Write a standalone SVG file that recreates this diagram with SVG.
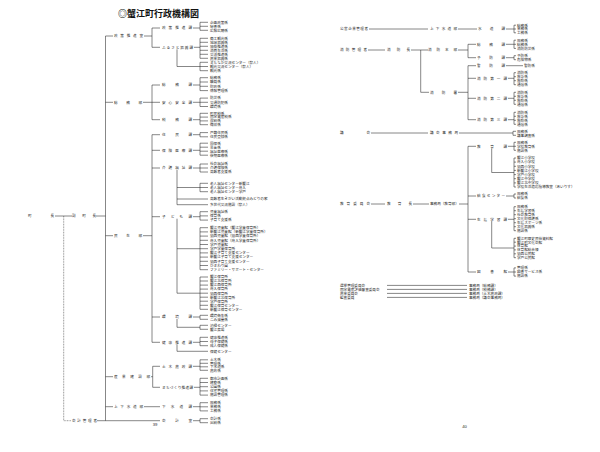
<svg xmlns="http://www.w3.org/2000/svg" width="600" height="452" viewBox="0 0 600 452">
<style>
text{font-family:"Noto Sans CJK JP","Noto Sans",sans-serif;font-size:3.6px;fill:#2a2a2a}
.h{font-size:9px;font-weight:bold;fill:#111}
.pg{font-size:4.2px;font-family:"Liberation Sans",sans-serif;text-anchor:middle}
.c{fill:none;stroke:#222;stroke-width:0.55}
.d{fill:none;stroke:#333;stroke-width:0.55;stroke-dasharray:0.9 0.7}
</style>
<rect width="600" height="452" fill="#fff"/>
<g id="connectors">
<path class="c" d="M105.5 36V420.7 M55 216H72 M96 216H105.5 M105.5 36H113 M105.5 102.3H113 M105.5 235.7H113 M105.5 376.7H113 M105.5 406.7H113 M97 420.7H160"/>
<path class="d" d="M63.7 216V420.7H71"/>
<path class="c" d="M144 36H152 M152 28V47.3 M152 28H160 M152 47.3H160
M193 28H200 M200 22.3V30.3 M200 22.3H208 M200 26.3H208 M200 30.3H208
M194 47.3H200 M200 38.3V58.3 M200 38.3H208 M200 42.3H208 M200 46.3H208 M200 50.3H208 M200 54.3H208 M200 58.3H208 M177 49.3V66.5H200 M200 62.3V70.7 M200 62.3H208 M200 66.5H208 M200 70.7H208
M143 102.3H152 M152 85V119.7 M152 85H160 M152 102.3H160 M152 119.7H160
M193 85H200 M200 77.7V90.6 M200 77.7H208 M200 82H208 M200 86.3H208 M200 90.6H208
M193 102.3H200 M200 98.1V106.5 M200 98.1H208 M200 102.3H208 M200 106.5H208
M193 119.7H200 M200 113.3V124.7 M200 113.3H208 M200 117.1H208 M200 120.9H208 M200 124.7H208
M143 235.7H152 M152 134.7V342.3 M152 134.7H160 M152 150.3H160 M152 168H160 M152 216.7H160 M152 317H160 M152 342.3H160
M193 134.7H200 M200 132.6V136.8 M200 132.6H208 M200 136.8H208
M193 150.3H200 M200 143.2V155.2 M200 143.2H208 M200 147.2H208 M200 151.2H208 M200 155.2H208
M193 168H200 M200 164V172 M200 164H208 M200 168H208 M200 172H208 M177 170V204.7 M177 187.5H200 M200 183.3V191.7 M200 183.3H208 M200 187.5H208 M200 191.7H208 M177 199H208 M177 204.7H208
M193 216.7H200 M200 211.7V220.1 M200 211.7H208 M200 215.9H208 M200 220.1H208 M177 218.7V293.2 M177 248.7H200 M200 227.7V269.7 M200 227.7H208 M200 231.9H208 M200 236.1H208 M200 240.3H208 M200 244.5H208 M200 248.7H208 M200 252.9H208 M200 257.1H208 M200 261.3H208 M200 265.5H208 M200 269.7H208
M177 293.2H200 M200 277V309.3 M200 277H208 M200 281H208 M200 285.1H208 M200 289.1H208 M200 293.2H208 M200 297.2H208 M200 301.2H208 M200 305.3H208 M200 309.3H208
M193 317H200 M200 315.3V319.3 M200 315.3H208 M200 319.3H208 M177 319V327.3H200 M200 325.3V329.3 M200 325.3H208 M200 329.3H208
M193 342.3H200 M200 337.3V345.7 M200 337.3H208 M200 341.5H208 M200 345.7H208 M177 344.3V351.3H208
M151 376.7H152.7 M152.7 366.3V387.3 M152.7 366.3H160 M152.7 387.3H160
M193 366.3H200 M200 359.8V370.3 M200 359.8H208 M200 363.3H208 M200 366.8H208 M200 370.3H208
M194 387.3H200 M200 378.3V395.1 M200 378.3H208 M200 382.5H208 M200 386.7H208 M200 390.9H208 M200 395.1H208
M144 406.7H160 M193 406.7H200 M200 402.7V410.9 M200 402.7H208 M200 406.8H208 M200 410.9H208
M193 420.7H200 M200 418.7V422.7 M200 418.7H208 M200 422.7H208"/>
<path class="c" d="M369 29H428 M458 29H477 M506 29H514 M514 25.2V32.8 M514 25.2H516 M514 29H516 M514 32.8H516
M368 50H385 M411 50H428 M420.7 50V92.3H429 M458 50H468 M468 44.3V57.7 M468 44.3H476 M468 57.7H476
M506 44.3H514 M514 40.2V48.4 M514 40.2H516 M514 44.3H516 M514 48.4H516
M506 57.7H514 M514 55.7V59.7 M514 55.7H516 M514 59.7H516
M458 92.3H468 M468 65.7V119.7 M468 65.7H476 M468 78.3H476 M468 98.3H476 M468 119.7H476
M506 65.7H523
M508 78.3H514 M514 72.7V84.7 M514 72.7H516 M514 76.7H516 M514 80.7H516 M514 84.7H516
M508 98.3H514 M514 92.3V104.3 M514 92.3H516 M514 96.3H516 M514 100.3H516 M514 104.3H516
M508 119.7H514 M514 112.3V124.3 M514 112.3H516 M514 116.3H516 M514 120.3H516 M514 124.3H516
M371 133H428 M459 133H513 M513 131.3V135.3 M513 131.3H516 M513 135.3H516
M371 204H385 M413 204H429 M459 204H468 M468 146.3V272 M468 146.3H476 M468 196H476 M468 219.3H476 M468 272H476
M508 146.3H514 M514 142.3V150.3 M514 142.3H516 M514 146.3H516 M514 150.3H516 M491.7 148.3V172.5H514 M514 158V187 M514 158H516 M514 162.1H516 M514 166.3H516 M514 170.4H516 M514 174.6H516 M514 178.7H516 M514 182.9H516 M514 187H516
M506 196H514 M514 194V198 M514 194H516 M514 198H516
M508 219.3H514 M514 206.7V230.7 M514 206.7H516 M514 210.7H516 M514 214.7H516 M514 218.7H516 M514 222.7H516 M514 226.7H516 M514 230.7H516 M491.7 221.3V248H514 M514 238.3V257.7 M514 238.3H516 M514 242.2H516 M514 246.1H516 M514 249.9H516 M514 253.8H516 M514 257.7H516
M508 272H514 M514 267.9V276.1 M514 267.9H516 M514 272H516 M514 276.1H516
M387 285.4H467 M387 289.4H467 M387 293.4H467 M387 297.4H467"/>
</g>
<g id="title"><text class="h" x="118" y="17">◎蟹江町行政機構図</text></g>
<g id="chouchou"><text x="28" y="217.3" textLength="26" lengthAdjust="spacing">町長</text></g>
<g id="fukuchouchou"><text x="72" y="217.3" textLength="24" lengthAdjust="spacing">副町長</text></g>
<g id="kaikei-kanrisha"><text x="72" y="422" textLength="25" lengthAdjust="spacing">会計管理者</text></g>
<g id="seisaku-suishinshitsu"><text x="114" y="37.3" textLength="29" lengthAdjust="spacing">政策推進室</text></g>
<g id="seisaku-suishinka"><text x="162" y="29.3" textLength="30" lengthAdjust="spacing">政策推進課</text>
<text x="210" y="23.6">企画政策係</text><text x="210" y="27.6">秘書係</text><text x="210" y="31.6">広報広聴係</text></g>
<g id="furusato"><text x="162" y="48.6" textLength="31" lengthAdjust="spacing">ふるさと振興課</text>
<text x="210" y="39.6">商工観光係</text><text x="210" y="43.6">地域振興係</text><text x="210" y="47.6">協働推進係</text><text x="210" y="51.6">消費生活係</text><text x="210" y="55.6">交流推進係</text><text x="210" y="59.6">農業振興係</text>
<text x="210" y="63.6">まちなか交流センター（祭人）</text><text x="210" y="67.8">観光交流センター（祭人）</text><text x="210" y="72">観光係</text></g>
<g id="soumubu"><text x="114" y="103.6" textLength="28" lengthAdjust="spacing">総務部</text></g>
<g id="soumuka"><text x="162" y="86.3" textLength="30" lengthAdjust="spacing">総務課</text>
<text x="210" y="79">総務係</text><text x="210" y="83.3">職員係</text><text x="210" y="87.6">財政係</text><text x="210" y="91.9">情報管理係</text></g>
<g id="anshin"><text x="162" y="103.6" textLength="30" lengthAdjust="spacing">安心安全課</text>
<text x="210" y="99.4">防災係</text><text x="210" y="103.6">交通防犯係</text><text x="210" y="107.8">環境係</text></g>
<g id="zeimu"><text x="162" y="121" textLength="30" lengthAdjust="spacing">税務課</text>
<text x="210" y="114.6">町民税係</text><text x="210" y="118.4">固定資産税係</text><text x="210" y="122.2">収納係</text><text x="210" y="126">徴収係</text></g>
<g id="minseibu"><text x="114" y="237" textLength="28" lengthAdjust="spacing">民生部</text></g>
<g id="juumin"><text x="162" y="136" textLength="30" lengthAdjust="spacing">住民課</text>
<text x="210" y="133.9">戸籍住民係</text><text x="210" y="138.1">住民登録係</text></g>
<g id="hoken-iryou"><text x="162" y="151.6" textLength="30" lengthAdjust="spacing">保険医療課</text>
<text x="210" y="144.5">国保係</text><text x="210" y="148.5">年金係</text><text x="210" y="152.5">福祉医療係</text><text x="210" y="156.5">後期医療係</text></g>
<g id="kaigo"><text x="162" y="169.3" textLength="30" lengthAdjust="spacing">介護福祉課</text>
<text x="210" y="165.3">社会福祉係</text><text x="210" y="169.3">介護保険係</text><text x="210" y="173.3">高齢者支援係</text>
<text x="210" y="184.6">老人福祉センター新蟹江</text><text x="210" y="188.8">老人福祉センター舟入</text><text x="210" y="193">老人福祉センター学戸</text>
<text x="210" y="200.3">高齢者生きがい活動拠点みどりの家</text><text x="210" y="206">多世代交流施設（祭人）</text></g>
<g id="kodomo"><text x="162" y="218" textLength="30" lengthAdjust="spacing">子ども課</text>
<text x="210" y="213">児童福祉係</text><text x="210" y="217.2">保育係</text><text x="210" y="221.4">子育て支援係</text>
<text x="210" y="229">蟹江児童館（蟹江学童保育所）</text><text x="210" y="233.2">新蟹江児童館（新蟹江学童保育所）</text><text x="210" y="237.4">須西児童館（須西学童保育所）</text><text x="210" y="241.6">舟入児童館（舟入学童保育所）</text><text x="210" y="245.8">学戸児童館</text><text x="210" y="250">学戸学童保育所</text><text x="210" y="254.2">蟹江子育て支援センター</text><text x="210" y="258.4">新蟹江子育て支援センター</text><text x="210" y="262.6">須西子育て支援センター</text><text x="210" y="266.8">ひまわり園</text><text x="210" y="271">ファミリー・サポート・センター</text>
<text x="210" y="278.3">蟹江保育所</text><text x="210" y="282.3">蟹江北保育所</text><text x="210" y="286.4">蟹江西保育所</text><text x="210" y="290.4">舟入保育所</text><text x="210" y="294.5">須西保育所</text><text x="210" y="298.5">新蟹江北保育所</text><text x="210" y="302.5">学戸保育所</text><text x="210" y="306.6">蟹江保育センター</text><text x="210" y="310.6">新蟹江保育センター</text></g>
<g id="kankyou"><text x="162" y="318.3" textLength="30" lengthAdjust="spacing">環境課</text>
<text x="210" y="316.6">環境衛生係</text><text x="210" y="320.6">ごみ減量係</text><text x="210" y="326.6">清掃センター</text><text x="210" y="330.6">蟹江斎場</text></g>
<g id="kenkou"><text x="162" y="343.6" textLength="30" lengthAdjust="spacing">健康推進課</text>
<text x="210" y="338.6">健康推進係</text><text x="210" y="342.8">母子保健係</text><text x="210" y="347">成人保健係</text><text x="210" y="352.6">保健センター</text></g>
<g id="sangyou-kensetsubu"><text x="114" y="378" textLength="36" lengthAdjust="spacing">産業建設部</text></g>
<g id="doboku"><text x="162" y="367.6" textLength="30" lengthAdjust="spacing">土木農政課</text>
<text x="210" y="361.1">土木係</text><text x="210" y="364.6">管理係</text><text x="210" y="368.1">下水道係</text><text x="210" y="371.6">農政係</text></g>
<g id="machizukuri"><text x="162" y="388.6" textLength="31" lengthAdjust="spacing">まちづくり推進課</text>
<text x="210" y="379.6">都市計画係</text><text x="210" y="383.8">建築係</text><text x="210" y="388">公園係</text><text x="210" y="392.2">住宅管理係</text><text x="210" y="396.4">施設管理係</text></g>
<g id="jougesuidoubu-l"><text x="114" y="408" textLength="29" lengthAdjust="spacing">上下水道部</text></g>
<g id="gesuidou"><text x="162" y="408" textLength="30" lengthAdjust="spacing">下水道課</text>
<text x="210" y="404">庶務係</text><text x="210" y="408.1">業務係</text><text x="210" y="412.2">工務係</text></g>
<g id="kaikeishitsu"><text x="162" y="422" textLength="30" lengthAdjust="spacing">会計室</text>
<text x="210" y="420">会計係</text><text x="210" y="424">出納係</text></g>
<g id="page39"><text class="pg" x="155" y="426">39</text></g>
<g id="kouei"><text x="340" y="30.3" textLength="28" lengthAdjust="spacing">公営企業管理者</text></g>
<g id="jougesuidoubu-r"><text x="430" y="30.3" textLength="27" lengthAdjust="spacing">上下水道部</text></g>
<g id="suidou"><text x="478" y="30.3" textLength="27" lengthAdjust="spacing">水道課</text>
<text x="517" y="26.5">総務係</text><text x="517" y="30.3">業務係</text><text x="517" y="34.1">工務係</text></g>
<g id="shoubou-kanrisha"><text x="340" y="51.3" textLength="27" lengthAdjust="spacing">消防管理者</text></g>
<g id="shouboucho"><text x="387" y="51.3" textLength="23" lengthAdjust="spacing">消防長</text></g>
<g id="shoubou-honbu"><text x="428" y="51.3" textLength="29" lengthAdjust="spacing">消防本部</text></g>
<g id="shoubou-soumu"><text x="477" y="45.6" textLength="28" lengthAdjust="spacing">総務課</text>
<text x="517" y="41.5">庶務係</text><text x="517" y="45.6">総務係</text><text x="517" y="49.7">消防防災係</text></g>
<g id="yobou"><text x="477" y="59" textLength="28" lengthAdjust="spacing">予防課</text>
<text x="517" y="57">予防係</text><text x="517" y="61">危険物係</text></g>
<g id="shoubousho"><text x="430" y="93.6" textLength="27" lengthAdjust="spacing">消防署</text></g>
<g id="keibou"><text x="477" y="67" textLength="28" lengthAdjust="spacing">警防課</text><text x="524" y="67">警防係</text></g>
<g id="dai1"><text x="477" y="79.6" textLength="30" lengthAdjust="spacing">消防第一課</text>
<text x="517" y="74">消防係</text><text x="517" y="78">救急係</text><text x="517" y="82">救助係</text><text x="517" y="86">通信係</text></g>
<g id="dai2"><text x="477" y="99.6" textLength="30" lengthAdjust="spacing">消防第二課</text>
<text x="517" y="93.6">消防係</text><text x="517" y="97.6">救急係</text><text x="517" y="101.6">救助係</text><text x="517" y="105.6">通信係</text></g>
<g id="dai3"><text x="477" y="121" textLength="30" lengthAdjust="spacing">消防第三課</text>
<text x="517" y="113.6">消防係</text><text x="517" y="117.6">救急係</text><text x="517" y="121.6">救助係</text><text x="517" y="125.6">通信係</text></g>
<g id="gikai"><text x="340" y="134.3" textLength="30" lengthAdjust="spacing">議会</text></g>
<g id="gikai-jimukyoku"><text x="430" y="134.3" textLength="28" lengthAdjust="spacing">議会事務局</text>
<text x="517" y="132.6">庶務係</text><text x="517" y="136.6">議事調査係</text></g>
<g id="kyouiku-iinkai"><text x="340" y="205.3" textLength="30" lengthAdjust="spacing">教育委員会</text></g>
<g id="kyouikuchou"><text x="387" y="205.3" textLength="25" lengthAdjust="spacing">教育長</text></g>
<g id="jimukyoku-kyouiku"><text x="430" y="205.3">事務局（教育部）</text></g>
<g id="kyouikuka"><text x="477" y="147.6" textLength="30" lengthAdjust="spacing">教育課</text>
<text x="517" y="143.6">庶務係</text><text x="517" y="147.6">学校教育係</text><text x="517" y="151.6">施設係</text>
<text x="517" y="159.3">蟹江小学校</text><text x="517" y="163.4">舟入小学校</text><text x="517" y="167.6">須西小学校</text><text x="517" y="171.7">新蟹江小学校</text><text x="517" y="175.9">学戸小学校</text><text x="517" y="180">蟹江中学校</text><text x="517" y="184.2">蟹江北中学校</text><text x="517" y="188.3">学校生活適応指導教室（あいりす）</text></g>
<g id="kyuushoku"><text x="477" y="197.3" textLength="28" lengthAdjust="spacing">給食センター</text>
<text x="517" y="195.3">庶務係</text><text x="517" y="199.3">給食係</text></g>
<g id="shougai"><text x="477" y="220.6" textLength="30" lengthAdjust="spacing">生涯学習課</text>
<text x="517" y="208">庶務係</text><text x="517" y="212">生涯学習係</text><text x="517" y="216">社会教育係</text><text x="517" y="220">文化財保護係</text><text x="517" y="224">生涯スポーツ係</text><text x="517" y="228">文化振興係</text><text x="517" y="232">施設係</text>
<text x="517" y="239.6">蟹江町歴史民俗資料館</text><text x="517" y="243.5">蟹江町文化会館</text><text x="517" y="247.4">体育館</text><text x="517" y="251.2">体育館総合棟</text><text x="517" y="255.1">須西公民館</text><text x="517" y="259">学戸公民館</text></g>
<g id="toshokan"><text x="477" y="273.3" textLength="30" lengthAdjust="spacing">図書館</text>
<text x="517" y="269.2">管理係</text><text x="517" y="273.3">図書サービス係</text><text x="517" y="277.4">施設係</text></g>
<g id="senkyo"><text x="340" y="286.7">選挙管理委員会</text><text x="469" y="286.7">事務局（総務課）</text></g>
<g id="kotei"><text x="340" y="290.7">固定資産評価審査委員会</text><text x="469" y="290.7">事務局（税務課）</text></g>
<g id="nougyou"><text x="340" y="294.7">農業委員会</text><text x="469" y="294.7">事務局（土木農政課）</text></g>
<g id="kansa"><text x="340" y="298.7">監査委員</text><text x="469" y="298.7">事務局（議会事務局）</text></g>
<g id="page40"><text class="pg" x="464.5" y="427.5">40</text></g>
</svg>
